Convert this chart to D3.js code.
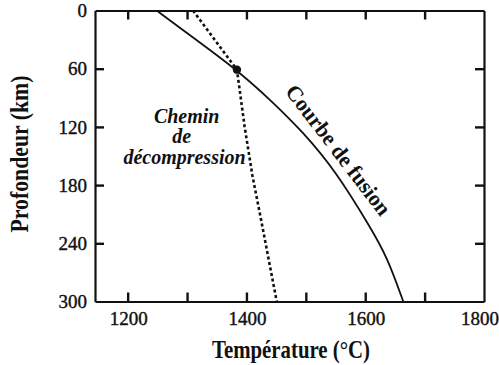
<!DOCTYPE html>
<html><head><meta charset="utf-8">
<script src="https://cdn.jsdelivr.net/npm/d3@7"></script>
<style>
html,body{margin:0;padding:0;background:#fff;}
svg{display:block;}
text{font-family:"Liberation Serif","Times New Roman",serif;fill:#111;}
</style></head>
<body>
<svg id="chart" width="499" height="365"></svg>
<script>
// Data
const meltDepth = [0, 18, 61, 92, 125, 167, 223, 254, 300];
const meltTemp  = [1249, 1288, 1384, 1440, 1495, 1552, 1608, 1637, 1664];
const pathDepth = [0, 61, 120, 170, 220, 300];
const pathTemp  = [1310, 1384, 1397, 1410, 1426, 1451];
const pointDepth = [61];
const pointTemp = [1384];
const xTicks = [1200, 1300, 1400, 1500, 1600, 1700];
const xTickLabels = [1200, 1400, 1600, 1800];
const yTicks = [60, 120, 180, 240];
const yTickLabels = [0, 60, 120, 180, 240, 300];
const xTitle = "Température (°C)";
const yTitle = "Profondeur (km)";
const meltLabel = "Courbe de fusion";
const pathLabel = ["Chemin", "de", "décompression"];

(function () {
const svg = d3.select("#chart");
const x = d3.scaleLinear().domain([1145, 1800]).range([95, 484]);
const y = d3.scaleLinear().domain([0, 300]).range([10.5, 301.5]);
const X0 = x.range()[0], X1 = x.range()[1], Y0 = y.range()[0], Y1 = y.range()[1];
const ink = "#111";

// Frame + ticks via d3 axes drawn with explicit inner ticks
const tickLen = 9;
const axB = d3.axisBottom(x).tickValues(xTicks).tickSizeInner(-tickLen).tickSizeOuter(0).tickFormat(() => "");
const axT = d3.axisTop(x).tickValues(xTicks).tickSizeInner(-tickLen).tickSizeOuter(0).tickFormat(() => "");
const axL = d3.axisLeft(y).tickValues(yTicks).tickSizeInner(-tickLen).tickSizeOuter(0).tickFormat(() => "");
const axR = d3.axisRight(y).tickValues(yTicks).tickSizeInner(-tickLen).tickSizeOuter(0).tickFormat(() => "");
const ga = svg.append("g").attr("class", "axes");
ga.append("g").attr("transform", `translate(0,${Y1})`).call(axB);
ga.append("g").attr("transform", `translate(0,${Y0})`).call(axT);
ga.append("g").attr("transform", `translate(${X0},0)`).call(axL);
ga.append("g").attr("transform", `translate(${X1},0)`).call(axR);
ga.selectAll(".tick line").attr("stroke", ink).attr("stroke-width", 2.4);
ga.selectAll(".domain").attr("stroke", ink).attr("stroke-width", 2.2);

// Tick labels
svg.append("g").selectAll("text").data(xTickLabels).join("text")
  .attr("x", v => Math.min(x(v) + 1, 480)).attr("y", 325)
  .attr("text-anchor", "middle").attr("font-size", 19)
  .attr("stroke", ink).attr("stroke-width", 0.4)
  .text(v => v);
svg.append("g").selectAll("text").data(yTickLabels).join("text")
  .attr("x", 87).attr("y", v => y(v)).attr("dy", "0.35em")
  .attr("text-anchor", "end").attr("font-size", 19)
  .attr("stroke", ink).attr("stroke-width", 0.4)
  .text(v => v);

// Titles
svg.append("text").attr("x", 291).attr("y", 358).attr("text-anchor", "middle")
  .attr("font-size", 26).attr("font-weight", "bold")
  .attr("textLength", 158).attr("lengthAdjust", "spacingAndGlyphs")
  .text(xTitle);
svg.append("text").attr("transform", "translate(28,154) rotate(-90)").attr("text-anchor", "middle")
  .attr("font-size", 26).attr("font-weight", "bold")
  .attr("textLength", 157).attr("lengthAdjust", "spacingAndGlyphs")
  .text(yTitle);

// Melting curve
const melt = meltDepth.map((dd, i) => [meltTemp[i], dd]);
svg.append("path").datum(melt)
  .attr("d", d3.line().x(p => x(p[0])).y(p => y(p[1])).curve(d3.curveBasis))
  .attr("fill", "none").attr("stroke", ink).attr("stroke-width", 1.8);

// Decompression path
const dpath = pathDepth.map((dd, i) => [pathTemp[i], dd]);
svg.append("path").datum(dpath)
  .attr("d", d3.line().x(p => x(p[0])).y(p => y(p[1])))
  .attr("fill", "none").attr("stroke", ink).attr("stroke-width", 2.6)
  .attr("stroke-dasharray", "3,2.6");

// Point
svg.append("g").selectAll("circle").data(pointDepth).join("circle")
  .attr("cx", (dd, i) => x(pointTemp[i])).attr("cy", dd => y(dd)).attr("r", 4.2).attr("fill", ink);

// Labels
svg.append("text").attr("transform", "translate(338.5,150) rotate(52.6)")
  .attr("text-anchor", "middle").attr("dominant-baseline", "central")
  .attr("font-size", 22).attr("font-weight", "bold")
  .attr("textLength", 158).attr("lengthAdjust", "spacingAndGlyphs")
  .text(meltLabel);
const pl = [[186.7, 123], [181.7, 143], [184.5, 164]];
svg.append("g").selectAll("text").data(pathLabel).join("text")
  .attr("x", (dd, i) => pl[i][0]).attr("y", (dd, i) => pl[i][1])
  .attr("text-anchor", "middle").attr("font-size", 20)
  .attr("font-weight", "bold").attr("font-style", "italic")
  .text(dd => dd);
})();
</script>
</body></html>
